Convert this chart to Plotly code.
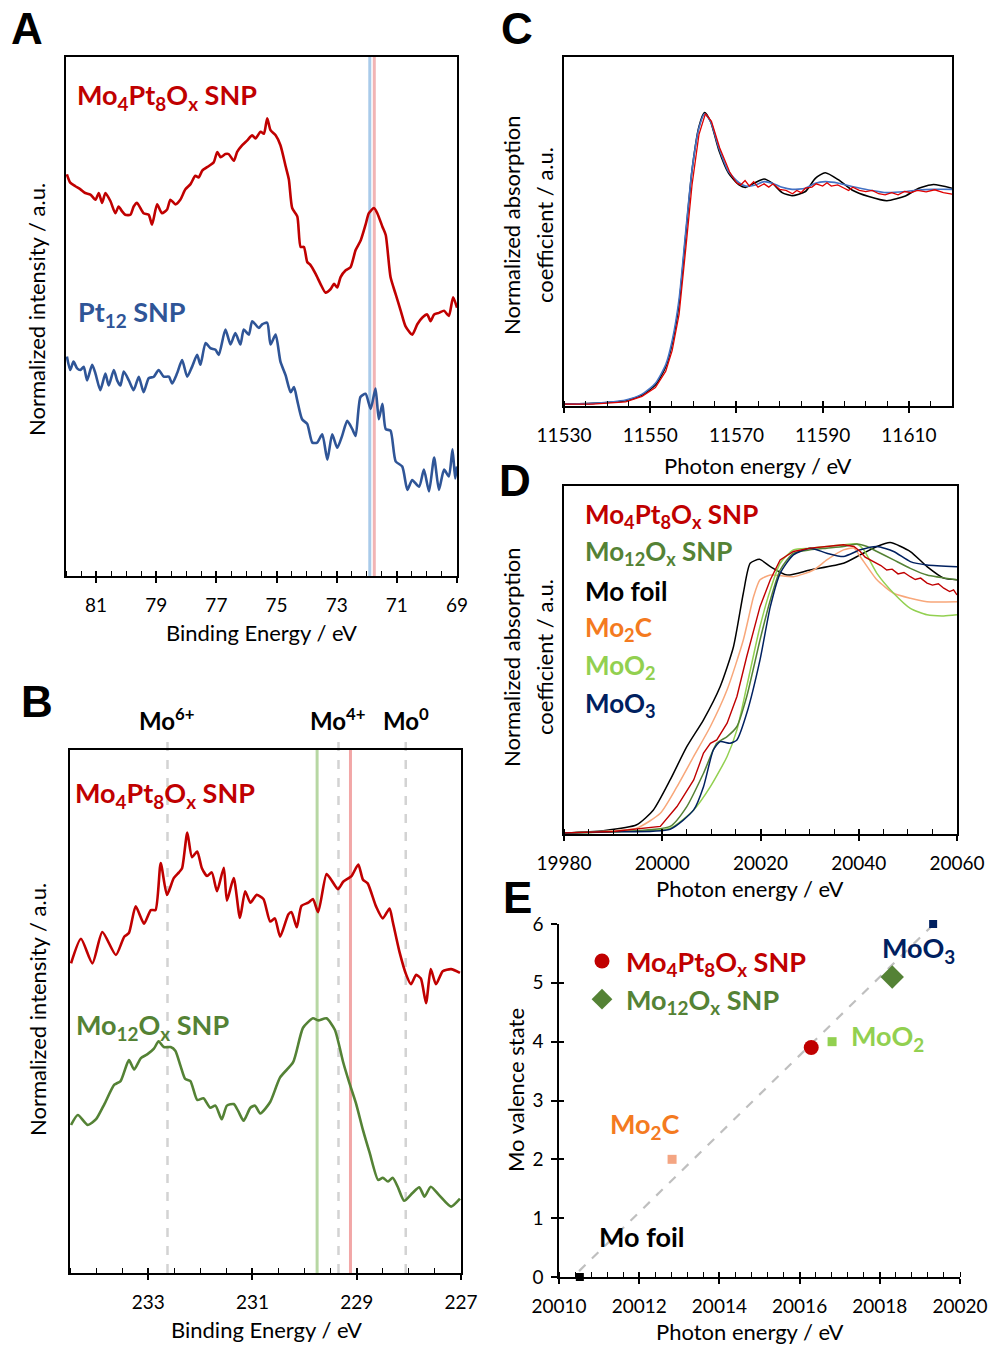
import plotly.graph_objects as go

W, H = 990, 1345
def px(x): return x / W
def py(y): return 1 - y / H

FONT = "Lato"
RED = "#C00000"; BLUE = "#2F5597"; DKGREEN = "#548235"; LTGREEN = "#92D050"
NAVY = "#002060"; ORANGE_T = "#F47A20"; ORANGE_L = "#F8A77A"; ORANGE_M = "#F4A582"

# ---------------- Panel A: Pt 4f XPS ----------------
a_be_red = [81.97, 81.86, 81.69, 81.52, 81.36, 81.19, 81.02, 80.91, 80.80, 80.69,
            80.52, 80.36, 80.25, 80.14, 80.03, 79.86, 79.75, 79.64, 79.42, 79.25,
            79.14, 78.97, 78.81, 78.64, 78.53, 78.36, 78.20, 78.03, 77.86, 77.70,
            77.59, 77.47, 77.25, 77.09, 76.97, 76.86, 76.70, 76.59, 76.42, 76.31,
            76.14, 75.98, 75.81, 75.70, 75.53, 75.42, 75.31, 75.20, 75.03, 74.87,
            74.70, 74.59, 74.48, 74.31, 74.20, 74.09, 73.98, 73.87, 73.70, 73.54,
            73.37, 73.20, 73.09, 72.98, 72.87, 72.70, 72.54, 72.37, 72.20, 72.04,
            71.93, 71.76, 71.65, 71.48, 71.37, 71.21, 71.04, 70.87, 70.71, 70.49,
            70.32, 70.15, 69.99, 69.88, 69.76, 69.60, 69.43, 69.27, 69.13, 69.00]
a_int_red = [0.774, 0.758, 0.751, 0.745, 0.738, 0.735, 0.725, 0.738, 0.719, 0.738,
             0.722, 0.699, 0.712, 0.703, 0.696, 0.696, 0.712, 0.719, 0.699, 0.696,
             0.677, 0.716, 0.699, 0.706, 0.725, 0.716, 0.725, 0.745, 0.755, 0.771,
             0.768, 0.781, 0.790, 0.797, 0.817, 0.807, 0.813, 0.813, 0.800, 0.817,
             0.830, 0.839, 0.849, 0.843, 0.856, 0.852, 0.882, 0.859, 0.849, 0.830,
             0.790, 0.764, 0.709, 0.693, 0.634, 0.634, 0.605, 0.599, 0.582, 0.563,
             0.546, 0.553, 0.563, 0.556, 0.576, 0.589, 0.595, 0.628, 0.647, 0.677,
             0.699, 0.709, 0.699, 0.673, 0.657, 0.576, 0.543, 0.511, 0.481, 0.465,
             0.485, 0.498, 0.504, 0.491, 0.504, 0.507, 0.511, 0.501, 0.537, 0.517]
a_be_blue = [81.97, 81.86, 81.75, 81.63, 81.52, 81.41, 81.30, 81.13, 81.02, 80.86,
             80.69, 80.58, 80.41, 80.30, 80.19, 80.08, 79.91, 79.75, 79.58, 79.42,
             79.25, 79.08, 78.92, 78.75, 78.58, 78.47, 78.31, 78.14, 77.97, 77.81,
             77.64, 77.53, 77.36, 77.20, 77.03, 76.92, 76.70, 76.53, 76.37, 76.20,
             76.09, 75.92, 75.81, 75.59, 75.48, 75.31, 75.20, 75.03, 74.87, 74.70,
             74.53, 74.42, 74.31, 74.15, 73.98, 73.81, 73.65, 73.48, 73.31, 73.15,
             72.98, 72.82, 72.65, 72.48, 72.37, 72.21, 72.04, 71.87, 71.71, 71.60,
             71.48, 71.37, 71.21, 71.04, 70.82, 70.65, 70.49, 70.26, 70.10, 69.93,
             69.76, 69.60, 69.43, 69.27, 69.15, 69.06, 69.00]
a_int_blue = [0.423, 0.397, 0.413, 0.400, 0.397, 0.403, 0.377, 0.407, 0.390, 0.358,
              0.390, 0.367, 0.397, 0.377, 0.367, 0.394, 0.377, 0.358, 0.384, 0.354,
              0.381, 0.384, 0.397, 0.384, 0.384, 0.371, 0.390, 0.416, 0.384, 0.403,
              0.426, 0.407, 0.449, 0.439, 0.436, 0.426, 0.475, 0.446, 0.468, 0.446,
              0.475, 0.465, 0.491, 0.478, 0.485, 0.488, 0.446, 0.465, 0.413, 0.387,
              0.354, 0.364, 0.338, 0.302, 0.293, 0.257, 0.257, 0.273, 0.224, 0.273,
              0.247, 0.270, 0.299, 0.283, 0.270, 0.345, 0.351, 0.322, 0.361, 0.302,
              0.332, 0.283, 0.280, 0.221, 0.211, 0.166, 0.185, 0.172, 0.205, 0.163,
              0.228, 0.166, 0.205, 0.192, 0.244, 0.188, 0.211]
a_ref_be = [71.9, 71.75]
a_ref_colors = ["#A9CBEA", "#F2B4B4"]
a_ticks = [81, 79, 77, 75, 73, 71, 69]
a_ticktext = ["81", "79", "77", "75", "73", "71", "69"]

# ---------------- Panel B: Mo 3d XPS ----------------
b_be_red = [234.48, 234.29, 234.07, 233.88, 233.62, 233.46, 233.37, 233.24, 233.08, 232.95,
            232.86, 232.76, 232.64, 232.51, 232.41, 232.35, 232.25, 232.16, 232.06, 231.97,
            231.87, 231.78, 231.68, 231.55, 231.49, 231.36, 231.24, 231.14, 231.04, 230.92,
            230.79, 230.66, 230.57, 230.47, 230.31, 230.25, 230.15, 230.06, 229.93, 229.84,
            229.74, 229.58, 229.49, 229.36, 229.26, 229.10, 228.97, 228.88, 228.79, 228.63,
            228.50, 228.37, 228.31, 228.18, 228.05, 227.96, 227.86, 227.77, 227.67, 227.58,
            227.48, 227.35, 227.19, 227.02]
b_int_red = [0.592, 0.639, 0.592, 0.652, 0.608, 0.643, 0.650, 0.701, 0.668, 0.694,
             0.694, 0.784, 0.723, 0.755, 0.766, 0.774, 0.842, 0.795, 0.806, 0.774,
             0.759, 0.766, 0.730, 0.775, 0.712, 0.755, 0.679, 0.730, 0.708, 0.723,
             0.715, 0.672, 0.678, 0.643, 0.686, 0.690, 0.661, 0.702, 0.708, 0.715,
             0.690, 0.763, 0.752, 0.734, 0.748, 0.759, 0.781, 0.752, 0.745, 0.701,
             0.678, 0.697, 0.672, 0.614, 0.570, 0.552, 0.570, 0.563, 0.516, 0.581,
             0.552, 0.577, 0.581, 0.574]
b_be_green = [234.48, 234.35, 234.16, 234.00, 233.84, 233.65, 233.53, 233.37, 233.27, 233.14,
              233.02, 232.89, 232.80, 232.70, 232.57, 232.48, 232.38, 232.29, 232.19, 232.06,
              231.94, 231.81, 231.71, 231.59, 231.49, 231.36, 231.27, 231.17, 231.04, 230.95,
              230.85, 230.66, 230.47, 230.22, 230.03, 229.84, 229.74, 229.58, 229.42, 229.26,
              229.14, 229.01, 228.88, 228.75, 228.59, 228.50, 228.40, 228.31, 228.21, 228.09,
              227.93, 227.80, 227.70, 227.58, 227.42, 227.19, 227.02]
b_int_green = [0.283, 0.302, 0.283, 0.294, 0.323, 0.360, 0.367, 0.407, 0.389, 0.411,
               0.418, 0.429, 0.443, 0.432, 0.432, 0.425, 0.396, 0.371, 0.367, 0.331,
               0.334, 0.316, 0.320, 0.294, 0.320, 0.323, 0.309, 0.291, 0.316, 0.320,
               0.305, 0.327, 0.374, 0.403, 0.469, 0.487, 0.483, 0.487, 0.465, 0.403,
               0.363, 0.323, 0.273, 0.229, 0.178, 0.182, 0.175, 0.182, 0.164, 0.138,
               0.153, 0.164, 0.146, 0.165, 0.149, 0.127, 0.142]
b_state_be = [232.63, 229.35, 228.06]
b_state_labels = ["Mo<sup>6+</sup>", "Mo<sup>4+</sup>", "Mo<sup>0</sup>"]
b_peak_be = [229.76, 229.12]
b_peak_colors = ["#B7D7A3", "#F2A7A7"]
b_ticks = [233, 231, 229, 227]
b_ticktext = ["233", "231", "229", "227"]

# ---------------- Panel C: Pt L3-edge XANES ----------------
c_e_black = [11530, 11536.6, 11544.3, 11548.1, 11551.2, 11553.6, 11555.1, 11556.7, 11558.2, 11559.7,
             11561.3, 11562.6, 11564.0, 11565.9, 11568.2, 11570.6, 11572.1, 11574.4, 11576.4, 11578.3,
             11580.6, 11582.9, 11586.0, 11588.3, 11590.6, 11593.7, 11596.8, 11600.7, 11604.9, 11609.2,
             11612.3, 11615.7, 11620.0]
c_mu_black = [0, 0.003, 0.015, 0.041, 0.087, 0.170, 0.277, 0.460, 0.764, 1.068,
              1.266, 1.330, 1.289, 1.160, 1.053, 1.000, 0.989, 1.011, 1.027, 1.008,
              0.965, 0.951, 0.970, 1.030, 1.056, 1.023, 0.977, 0.947, 0.928, 0.950,
              0.985, 1.002, 0.985]
c_mu_blue = [0, 0.003, 0.018, 0.045, 0.095, 0.180, 0.290, 0.480, 0.780, 1.070,
             1.260, 1.325, 1.290, 1.170, 1.060, 1.010, 0.995, 1.000, 1.015, 1.008,
             0.989, 0.980, 0.985, 1.008, 1.015, 1.008, 0.993, 0.977, 0.965, 0.970,
             0.977, 0.980, 0.980]
c_e_red = [11530, 11536.6, 11544.3, 11548.1, 11551.2, 11553.6, 11555.1, 11556.7, 11558.2, 11559.7,
           11561.3, 11562.8, 11564.2, 11566.1, 11568.4, 11570.0, 11571.0, 11572.0, 11573.0, 11574.0,
           11575.0, 11576.4, 11577.5, 11578.5, 11580.0, 11581.5, 11583.0, 11584.0, 11585.0, 11586.0,
           11587.5, 11588.5, 11590.0, 11591.0, 11592.0, 11593.5, 11595.0, 11596.0, 11597.0, 11598.5,
           11600.0, 11601.5, 11603.0, 11604.5, 11606.0, 11607.5, 11609.0, 11610.5, 11612.0, 11614.0,
           11616.0, 11618.0, 11620.0]
c_mu_red = [0, 0.0, 0.010, 0.035, 0.075, 0.150, 0.245, 0.410, 0.700, 1.000,
            1.230, 1.325, 1.290, 1.170, 1.060, 1.010, 1.000, 1.020, 0.995, 1.015,
            0.990, 1.005, 0.990, 1.005, 0.980, 0.975, 0.960, 0.975, 0.965, 0.985,
            0.990, 1.005, 0.995, 1.010, 0.995, 1.000, 0.985, 0.975, 0.990, 0.975,
            0.970, 0.975, 0.960, 0.955, 0.965, 0.955, 0.970, 0.965, 0.975, 0.968,
            0.978, 0.965, 0.958]
c_ticks = [11530, 11550, 11570, 11590, 11610]
c_ticktext = ["11530", "11550", "11570", "11590", "11610"]

# ---------------- Panel D: Mo K-edge XANES ----------------
d_e_mopt = [19980, 19990, 19999.6, 20003.0, 20006.4, 20008.4, 20009.8, 20011.1, 20013.2, 20015.2,
            20017.2, 20019.9, 20022.0, 20024.0, 20026.7, 20030.1, 20033.5, 20036.9, 20039.0, 20040.3,
            20041.3, 20042.3, 20043.2, 20044.5, 20045.7, 20046.8, 20048.0, 20049.2, 20050.5, 20051.5,
            20052.6, 20053.9, 20055.0, 20056.2, 20057.3, 20058.5, 20059.3, 20060.0]
d_mu_mopt = [0, 0.005, 0.023, 0.094, 0.189, 0.285, 0.320, 0.332, 0.392, 0.487,
             0.630, 0.808, 0.904, 0.975, 1.005, 1.017, 1.023, 1.029, 1.023, 1.005,
             0.985, 0.975, 0.968, 0.955, 0.939, 0.942, 0.925, 0.930, 0.915, 0.905,
             0.910, 0.892, 0.885, 0.890, 0.874, 0.862, 0.868, 0.850]
d_e_mo12 = [19980, 19990, 20001.6, 20005.0, 20008.4, 20011.1, 20013.2, 20015.2, 20017.2, 20019.9,
            20022.0, 20024.0, 20026.7, 20030.1, 20033.5, 20036.9, 20039.6, 20041.7, 20043.7, 20047.1,
            20050.5, 20053.9, 20060.0]
d_mu_mo12 = [0, 0.004, 0.023, 0.094, 0.213, 0.320, 0.344, 0.380, 0.487, 0.689,
             0.832, 0.939, 0.999, 1.011, 1.017, 1.023, 1.032, 1.023, 1.005, 0.975,
             0.945, 0.921, 0.904]
d_e_foil = [19980, 19988, 19994.8, 19998.2, 20001.6, 20005.0, 20008.4, 20011.8, 20014.5, 20016.5,
            20017.9, 20019.8, 20022.0, 20025.4, 20030.1, 20036.9, 20040.3, 20043.7, 20046.4, 20050.5,
            20053.9, 20057.3, 20060.0]
d_mu_foil = [0, 0.008, 0.029, 0.082, 0.189, 0.308, 0.404, 0.523, 0.665, 0.856,
             0.963, 0.977, 0.951, 0.921, 0.939, 0.963, 0.993, 1.023, 1.037, 1.005,
             0.951, 0.910, 0.904]
d_e_mo2c = [19980, 19988, 19994.8, 19999.6, 20003.0, 20006.4, 20009.8, 20013.2, 20016.5, 20018.6,
            20019.9, 20022.0, 20026.7, 20030.8, 20033.5, 20036.9, 20039.0, 20040.3, 20043.7, 20047.1,
            20050.5, 20053.9, 20060.0]
d_mu_mo2c = [0, 0.006, 0.017, 0.070, 0.165, 0.273, 0.380, 0.511, 0.689, 0.844,
             0.904, 0.921, 0.915, 0.939, 0.975, 1.011, 1.017, 0.987, 0.904, 0.856,
             0.838, 0.826, 0.826]
d_e_moo2 = [19980, 19990, 20001.6, 20006.4, 20009.8, 20013.2, 20015.2, 20017.2, 20019.9, 20022.0,
            20024.0, 20026.7, 20030.1, 20033.5, 20036.9, 20039.6, 20041.0, 20043.7, 20047.1, 20050.5,
            20053.9, 20057.3, 20060.0]
d_mu_moo2 = [0, 0.004, 0.017, 0.082, 0.165, 0.273, 0.368, 0.523, 0.737, 0.868,
             0.963, 1.011, 1.017, 1.023, 1.029, 1.032, 1.011, 0.927, 0.856, 0.802,
             0.779, 0.775, 0.779]
d_e_moo3 = [19980, 19990, 20001.6, 20006.4, 20008.4, 20010.4, 20011.8, 20013.8, 20015.2, 20017.2,
            20019.9, 20022.0, 20024.0, 20026.7, 20030.1, 20033.5, 20036.9, 20040.3, 20043.7, 20047.1,
            20050.5, 20053.9, 20060.0]
d_mu_moo3 = [0, 0.004, 0.013, 0.082, 0.165, 0.296, 0.326, 0.320, 0.332, 0.427,
             0.618, 0.808, 0.927, 0.993, 1.017, 0.999, 0.987, 1.011, 1.023, 1.005,
             0.969, 0.957, 0.951]
d_ticks = [19980, 20000, 20020, 20040, 20060]
d_ticktext = ["19980", "20000", "20020", "20040", "20060"]

# ---------------- Panel E: edge energy vs valence ----------------
e_names = ["Mo foil", "Mo2C", "Mo4Pt8Ox SNP", "MoO2", "Mo12Ox SNP", "MoO3"]
e_energy = [20010.52, 20012.82, 20016.29, 20016.81, 20018.31, 20019.33]
e_valence = [0, 2, 3.9, 4, 5.1, 6]
e_fit_energy = [20010.5, 20019.35]
e_fit_valence = [0.1, 6.0]
e_xticks = [20010, 20012, 20014, 20016, 20018, 20020]
e_xticktext = ["20010", "20012", "20014", "20016", "20018", "20020"]
e_yticks = [0, 1, 2, 3, 4, 5, 6]
e_yticktext = ["0", "1", "2", "3", "4", "5", "6"]

fig = go.Figure()

def line(x, y, ax, ay, color, width, shape="spline"):
    ln = dict(color=color, width=width, shape=shape)
    if shape == "spline":
        ln["smoothing"] = 0.6
    fig.add_trace(go.Scatter(x=x, y=y, xaxis=ax, yaxis=ay, mode="lines",
                             line=ln, showlegend=False, hoverinfo="skip"))

# A
line(a_be_red, a_int_red, "x", "y", RED, 2.6)
line(a_be_blue, a_int_blue, "x", "y", BLUE, 2.6)
# C
line(c_e_black, c_mu_black, "x2", "y2", "black", 1.6)
line(c_e_black, c_mu_blue, "x2", "y2", "#4472C4", 1.6)
line(c_e_red, c_mu_red, "x2", "y2", "#E00000", 1.3, shape="linear")
# D
line(d_e_foil, d_mu_foil, "x3", "y3", "black", 1.5)
line(d_e_mo2c, d_mu_mo2c, "x3", "y3", ORANGE_L, 1.5)
line(d_e_moo2, d_mu_moo2, "x3", "y3", LTGREEN, 1.5)
line(d_e_mo12, d_mu_mo12, "x3", "y3", DKGREEN, 1.5)
line(d_e_moo3, d_mu_moo3, "x3", "y3", NAVY, 1.5)
line(d_e_mopt, d_mu_mopt, "x3", "y3", RED, 1.4, shape="linear")
# B
line(b_be_red, b_int_red, "x4", "y4", RED, 2.6)
line(b_be_green, b_int_green, "x4", "y4", DKGREEN, 2.6)

# E
fig.add_trace(go.Scatter(x=e_fit_energy, y=e_fit_valence, xaxis="x5", yaxis="y5", mode="lines",
                         line=dict(color="#BFBFBF", width=2.2, dash="dash"), showlegend=False))
e_style = {
    "Mo foil": dict(symbol="square", size=8, color="black"),
    "Mo2C": dict(symbol="square", size=9, color=ORANGE_M),
    "Mo4Pt8Ox SNP": dict(symbol="circle", size=15, color=RED),
    "MoO2": dict(symbol="square", size=9, color=LTGREEN),
    "Mo12Ox SNP": dict(symbol="diamond", size=18, color=DKGREEN),
    "MoO3": dict(symbol="square", size=8, color=NAVY),
}
legend_names = {
    "Mo4Pt8Ox SNP": "<b><span style='color:%s'>Mo<sub>4</sub>Pt<sub>8</sub>O<sub>x</sub> SNP</span></b>" % RED,
    "Mo12Ox SNP": "<b><span style='color:%s'>Mo<sub>12</sub>O<sub>x</sub> SNP</span></b>" % DKGREEN,
}
for name, xe, yv in zip(e_names, e_energy, e_valence):
    st = e_style[name]
    fig.add_trace(go.Scatter(x=[xe], y=[yv], xaxis="x5", yaxis="y5", mode="markers",
                             marker=dict(symbol=st["symbol"], size=st["size"], color=st["color"],
                                         line=dict(width=0)),
                             cliponaxis=False,
                             name=legend_names.get(name, name),
                             showlegend=name in legend_names))

# dummy traces so overlay tick axes render
for ax, ay in [("x6", "y"), ("x7", "y2"), ("x8", "y3"), ("x9", "y4"), ("x10", "y5"), ("x5", "y6")]:
    fig.add_trace(go.Scatter(x=[], y=[], xaxis=ax, yaxis=ay, showlegend=False, hoverinfo="skip"))

tickfont = dict(family=FONT, size=19, color="black")

def xaxis(domain, rng, tickvals, ticktext, minor_d, minor_t0, anchor, mirror=True, standoff=6):
    return dict(domain=domain, range=rng, autorange=False, anchor=anchor, automargin=False,
                showline=True, linecolor="black", linewidth=1.5, mirror=mirror,
                tickmode="array", tickvals=tickvals, ticktext=ticktext,
                ticks="outside", ticklen=5, tickwidth=1.5, tickcolor="black",
                minor=dict(ticks="inside", ticklen=5, tickwidth=1.2, tickcolor="black",
                           dtick=minor_d, tick0=minor_t0, showgrid=False),
                showgrid=False, zeroline=False, tickfont=tickfont,
                ticklabelstandoff=standoff)

def yaxis_box(domain, rng, anchor):
    return dict(domain=domain, range=rng, autorange=False, anchor=anchor, automargin=False,
                showline=True, linecolor="black", linewidth=1.5, mirror=True,
                ticks="", showticklabels=False, showgrid=False, zeroline=False)

def overlay_x(base, anchor, rng, tickvals):
    return dict(overlaying=base, anchor=anchor, range=rng, autorange=False, automargin=False,
                tickmode="array", tickvals=tickvals, ticks="inside", ticklen=5,
                tickwidth=1.5, tickcolor="black", showticklabels=False,
                showline=False, showgrid=False, zeroline=False, side="bottom")

dA = dict(x=[px(66), px(457)], y=[py(576), py(57)])
dC = dict(x=[px(564), px(952)], y=[py(406), py(57)])
dD = dict(x=[px(564), px(957)], y=[py(834), py(486)])
dB = dict(x=[px(70), px(461)], y=[py(1273), py(750)])
dE = dict(x=[px(559), px(960)], y=[py(1277), py(924)])

rA = [82, 69]; rC = [11530, 11620]; rD = [19980, 20060]; rB = [234.5, 227]; rE = [20010, 20020]

fig.update_layout(
    width=W, height=H, margin=dict(l=0, r=0, t=0, b=0, pad=0, autoexpand=False),
    paper_bgcolor="white", plot_bgcolor="rgba(0,0,0,0)",
    font=dict(family=FONT, color="black"),
    xaxis=xaxis(dA["x"], rA, a_ticks, a_ticktext, 0.5, 69, "y"),
    yaxis=yaxis_box(dA["y"], [0, 1], "x"),
    xaxis2=xaxis(dC["x"], rC, c_ticks, c_ticktext, 5, 11530, "y2"),
    yaxis2=yaxis_box(dC["y"], [-0.009, 1.584], "x2"),
    xaxis3=xaxis(dD["x"], rD, d_ticks, d_ticktext, 5, 19980, "y3"),
    yaxis3=yaxis_box(dD["y"], [-0.004, 1.239], "x3"),
    xaxis4=xaxis(dB["x"], rB, b_ticks, b_ticktext, 0.5, 227, "y4"),
    yaxis4=yaxis_box(dB["y"], [0, 1], "x4"),
    xaxis5=xaxis(dE["x"], rE, e_xticks, e_xticktext, 0.4, 20010, "y5", mirror=False),
    yaxis5=dict(domain=dE["y"], range=[0, 6], autorange=False, anchor="x5", automargin=False,
                showline=True, linecolor="black", linewidth=1.5,
                tickmode="array", tickvals=e_yticks, ticktext=e_yticktext,
                ticks="outside", ticklen=6,
                tickwidth=1.5, tickcolor="black", showgrid=False, zeroline=False,
                tickfont=tickfont, ticklabelstandoff=4),
    xaxis6=overlay_x("x", "y", rA, a_ticks),
    xaxis7=overlay_x("x2", "y2", rC, c_ticks),
    xaxis8=overlay_x("x3", "y3", rD, d_ticks),
    xaxis9=overlay_x("x4", "y4", rB, b_ticks),
    xaxis10=overlay_x("x5", "y5", rE, e_xticks),
    yaxis6=dict(overlaying="y5", anchor="x5", range=[0, 6], autorange=False, automargin=False,
                tickmode="array", tickvals=e_yticks, ticks="inside", ticklen=5,
                tickwidth=1.5, tickcolor="black", showticklabels=False,
                showline=False, showgrid=False, zeroline=False, side="left"),
    legend=dict(x=px(578), y=py(937), xanchor="left", yanchor="top",
                bgcolor="rgba(0,0,0,0)", font=dict(family=FONT, size=27),
                tracegroupgap=0, itemsizing="trace", itemwidth=38),
    showlegend=True,
)

# reference lines
for xv, col in zip(a_ref_be, a_ref_colors):
    fig.add_shape(type="line", xref="x", yref="y domain", x0=xv, x1=xv, y0=0, y1=1,
                  line=dict(color=col, width=3), layer="below")
for xv, col in zip(b_peak_be, b_peak_colors):
    fig.add_shape(type="line", xref="x4", yref="y4 domain", x0=xv, x1=xv, y0=0, y1=1,
                  line=dict(color=col, width=3), layer="below")
for xv in b_state_be:
    fig.add_shape(type="line", xref="x4", yref="paper", x0=xv, x1=xv, y0=py(1273), y1=py(738),
                  line=dict(color="#D3D3D3", width=2.5, dash="dash"), layer="below")

def ann(text, x, y, size, color="black", xanchor="left", angle=0, family=FONT, xref="paper"):
    fig.add_annotation(text=text, x=x if xref != "paper" else px(x), y=py(y), xref=xref, yref="paper",
                       xanchor=xanchor, yanchor="middle", showarrow=False, textangle=angle,
                       font=dict(family=family, size=size, color=color))

MOPT = "<b>Mo<sub>4</sub>Pt<sub>8</sub>O<sub>x</sub> SNP</b>"
MO12 = "<b>Mo<sub>12</sub>O<sub>x</sub> SNP</b>"

# panel letters
for letter, x, y in [("A", 27, 28), ("B", 37, 702), ("C", 517, 28), ("D", 515, 480), ("E", 517, 897)]:
    ann("<b>%s</b>" % letter, x, y, 44, xanchor="center", family="Liberation Sans")

# Panel A texts
ann(MOPT, 75, 97, 27, RED)
ann("<b>Pt<sub>12</sub> SNP</b>", 76, 314, 27, BLUE)
ann("Normalized intensity / a.u.", 37, 310, 22, xanchor="center", angle=-90)
ann("Binding Energy / eV", 261, 632, 22, xanchor="center")

# Panel B texts
ann(MOPT, 73, 794, 27, RED)
ann(MO12, 74, 1026, 27, DKGREEN)
for lab, xv in zip(b_state_labels, b_state_be):
    ann("<b>%s</b>" % lab, xv, 719, 24, xanchor="center", xref="x4")
ann("Normalized intensity / a.u.", 37, 1010, 22, xanchor="center", angle=-90)
ann("Binding Energy / eV", 266, 1329, 22, xanchor="center")

# Panel C texts
ann("Normalized absorption", 512, 225, 22, xanchor="center", angle=-90)
ann("coefficient / a.u.", 545, 225, 22, xanchor="center", angle=-90)
ann("Photon energy / eV", 758, 465, 22, xanchor="center")

# Panel D texts
d_labels = [(MOPT, RED), (MO12, DKGREEN), ("<b>Mo foil</b>", "black"),
            ("<b>Mo<sub>2</sub>C</b>", ORANGE_T), ("<b>MoO<sub>2</sub></b>", LTGREEN),
            ("<b>MoO<sub>3</sub></b>", NAVY)]
for i, (t, c) in enumerate(d_labels):
    ann(t, 583, 515 + 37.8 * i, 26, c)
ann("Normalized absorption", 512, 657, 22, xanchor="center", angle=-90)
ann("coefficient / a.u.", 545, 657, 22, xanchor="center", angle=-90)
ann("Photon energy / eV", 750, 888, 22, xanchor="center")

# Panel E texts
ann("<b>MoO<sub>3</sub></b>", 918, 949, 27, NAVY, xanchor="center")
ann("<b>MoO<sub>2</sub></b>", 887, 1037, 27, LTGREEN, xanchor="center")
ann("<b>Mo<sub>2</sub>C</b>", 645, 1125, 27, ORANGE_T, xanchor="center")
ann("<b>Mo foil</b>", 642, 1236, 27, "black", xanchor="center")
ann("Mo valence state", 515, 1090, 22, xanchor="center", angle=-90)
ann("Photon energy / eV", 750, 1331, 22, xanchor="center")

fig.write_html("out.html", config={"displayModeBar": False},
               post_script="document.body.style.margin='0';document.body.style.overflow='hidden';")
